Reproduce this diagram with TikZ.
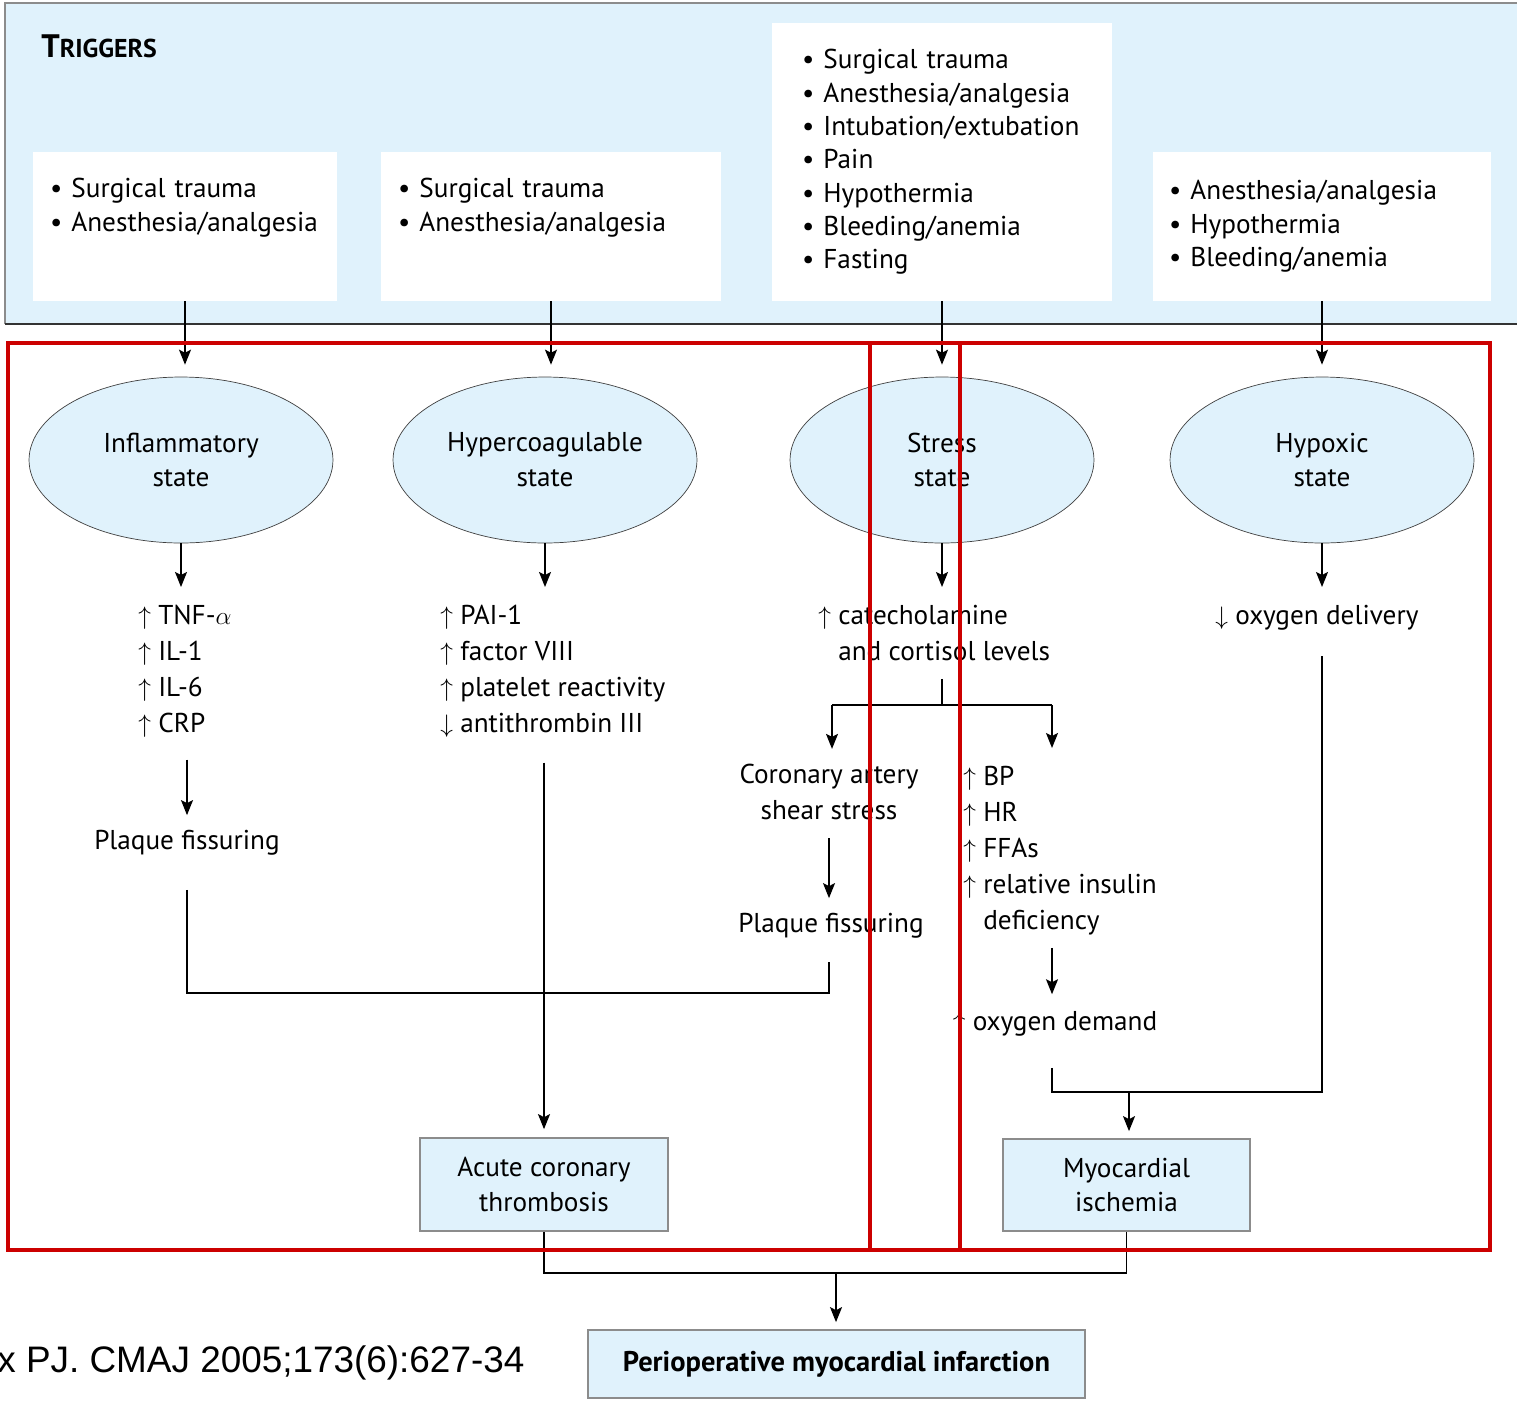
\documentclass[tikz,border=0pt]{standalone}
\usepackage{fontspec}
\setmainfont{PT Sans}
\newfontfamily\citefont{Liberation Sans}
\usetikzlibrary{shapes.geometric,arrows.meta,positioning}
\definecolor{paleblue}{RGB}{224,242,252}
\definecolor{redline}{RGB}{204,0,0}
\definecolor{edgegray}{RGB}{140,140,140}
\begin{document}
\begin{tikzpicture}[x=0.02cm,y=-0.02cm,
  txt/.style={inner sep=0pt,align=left,font=\fontsize{15.5}{20.4}\selectfont},
  trig/.style={fill=white,inner ysep=0pt,align=left,font=\fontsize{15.5}{19}\selectfont},
  state/.style={ellipse,draw=black!75,fill=paleblue,minimum width=6.08cm,minimum height=3.32cm,
    inner sep=0pt,align=center,font=\fontsize{15.5}{19.8}\selectfont},
  outcome/.style={draw=edgegray,line width=1pt,fill=paleblue,align=center,inner sep=0pt,
    font=\fontsize{15.5}{19.5}\selectfont},
  arr/.style={-{Stealth[length=0.3cm,width=0.24cm,inset=0.06cm]},line width=0.8pt},
  ln/.style={line width=0.8pt},
  redbox/.style={draw=redline,line width=1.8pt}]
\useasboundingbox (0,0) rectangle (1517,1400);

% triggers panel
\fill[paleblue] (5,3) rectangle (1530,324);
\draw[edgegray,line width=1.2pt] (1530,3) -- (5,3) -- (5,324);
\draw[black!80,line width=1.2pt] (5,324) -- (1530,324);
\node[anchor=base west,inner sep=0pt,font=\bfseries] (trg) at (41,57)
  {\fontsize{18.5}{20}\selectfont T\fontsize{14.7}{20}\selectfont RIGGERS};

\node[trig,text width=5.4cm,inner xsep=0.34cm,minimum height=2.98cm] (t1) at (185,226.5)
  {\textbullet\ Surgical trauma\\ \textbullet\ Anesthesia/analgesia\\ \strut};
\node[trig,text width=6.12cm,inner xsep=0.34cm,minimum height=2.98cm] (t2) at (551,226.5)
  {\textbullet\ Surgical trauma\\ \textbullet\ Anesthesia/analgesia\\ \strut};
\node[trig,text width=5.6cm,inner xsep=0.6cm,minimum height=5.56cm] (t3) at (942,162)
  {\textbullet\ Surgical trauma\\ \textbullet\ Anesthesia/analgesia\\ \textbullet\ Intubation/extubation\\
   \textbullet\ Pain\\ \textbullet\ Hypothermia\\ \textbullet\ Bleeding/anemia\\ \textbullet\ Fasting};
\node[trig,text width=6.12cm,inner xsep=0.32cm,minimum height=2.98cm] (t4) at (1322,226.5)
  {\textbullet\ Anesthesia/analgesia\\ \textbullet\ Hypothermia\\ \textbullet\ Bleeding/anemia};

% states
\node[state] (e1) at (181,460) {Inflammatory\\state};
\node[state] (e2) at (545,460) {Hypercoagulable\\state};
\node[state] (e3) at (942,460) {Stress\\state};
\node[state] (e4) at (1322,460) {Hypoxic\\state};

\draw[arr,shorten >=0.24cm] (t1.south) -- (t1.south |- e1.north);
\draw[arr,shorten >=0.24cm] (t2.south) -- (t2.south |- e2.north);
\draw[arr,shorten >=0.24cm] (t3.south) -- (t3.south |- e3.north);
\draw[arr,shorten >=0.24cm] (t4.south) -- (t4.south |- e4.north);

% markers
\node[txt,anchor=north west] (l1) at (138,605)
  {$\uparrow$ TNF-$\alpha$\\ $\uparrow$ IL-1\\ $\uparrow$ IL-6\\ $\uparrow$ CRP};
\node[txt,anchor=north west] (l2) at (440,605)
  {$\uparrow$ PAI-1\\ $\uparrow$ factor VIII\\ $\uparrow$ platelet reactivity\\ $\downarrow$ antithrombin III};
\node[txt,anchor=north west] (l3) at (818,605)
  {$\uparrow$ catecholamine\\ \phantom{$\uparrow$} and cortisol levels};
\node[txt,anchor=north west] (l4) at (1215,605) {$\downarrow$ oxygen delivery};

\draw[arr,shorten >=0.36cm] (e1.south) -- (e1.south |- l1.north);
\draw[arr,shorten >=0.36cm] (e2.south) -- (e2.south |- l2.north);
\draw[arr,shorten >=0.36cm] (e3.south) -- (e3.south |- l3.north);
\draw[arr,shorten >=0.36cm] (e4.south) -- (e4.south |- l4.north);

% inflammatory branch
\node[txt] (p1) at (187,843) {Plaque fissuring};
\draw[arr,shorten <=0.44cm,shorten >=0.3cm] (p1.north |- l1.south) -- (p1.north);

% stress branch
\coordinate (j2) at (942,705);
\coordinate (bl) at (832,705);
\coordinate (br) at (1052,705);
\node[txt,align=center] (cs) at (829,792) {Coronary artery\\shear stress};
\node[txt] (pf2) at (831,926) {Plaque fissuring};
\node[txt,anchor=north west] (rb) at (963,766)
  {$\uparrow$ BP\\ $\uparrow$ HR\\ $\uparrow$ FFAs\\ $\uparrow$ relative insulin\\ \phantom{$\uparrow$} deficiency};
\node[txt] (od) at (1055,1024) {$\uparrow$ oxygen demand};
\draw[ln,shorten <=0.26cm] (e3.south |- l3.south) -- (j2);
\draw[ln] (bl) -- (br);
\draw[arr,shorten >=0.3cm] (bl) -- (bl |- cs.north);
\draw[arr,shorten >=0.36cm] (br) -- (br |- rb.north);
\draw[arr,shorten <=0.36cm,shorten >=0.3cm] (cs.south) -- (cs.south |- pf2.north);
\draw[arr,shorten <=0.26cm,shorten >=0.34cm] (br |- rb.south) -- (br |- od.north);

% outcomes
\node[outcome,minimum width=4.96cm,minimum height=1.86cm] (ac) at (544,1184.5)
  {Acute coronary\\thrombosis};
\node[outcome,minimum width=4.94cm,minimum height=1.84cm] (mi) at (1126.5,1185)
  {Myocardial\\ischemia};
\coordinate (j1) at (829,993);
\coordinate (j3) at (1129,1092);
\coordinate (j4) at (836,1273);
\draw[ln,shorten <=0.68cm,shorten >=0.46cm] (p1.south) -- (p1.south |- j1) -- (j1) -- (j1 |- pf2.south);
\draw[arr,shorten <=0.5cm,shorten >=0.16cm] (ac.north |- l2.south) -- (ac.north);
\draw[ln,shorten <=0.62cm,shorten >=0.5cm] (od.south -| br) -- (br |- j3) -- (j3 -| e4.south) -- (e4.south |- l4.south);
\draw[arr,shorten >=0.14cm] (j3) -- (j3 |- mi.north);
\draw[ln] (ac.south) -- (ac.south |- j4) -- (j4 -| mi.south) -- (mi.south);

\node[outcome,minimum width=9.94cm,minimum height=1.36cm,font=\bfseries\fontsize{16.2}{19.5}\selectfont] (pmi)
  at (836.5,1364) {Perioperative myocardial infarction};
\draw[arr,shorten >=0.14cm] (j4) -- (j4 |- pmi.north);

\node[anchor=base west,inner sep=0pt,font=\citefont\fontsize{21}{24}\selectfont] (src) at (-3,1372)
  {x PJ. CMAJ 2005;173(6):627-34};

% red frames
\draw[redbox] (8,343) rectangle (960,1250);
\draw[redbox] (870,343) rectangle (1490,1250);
\end{tikzpicture}
\end{document}
